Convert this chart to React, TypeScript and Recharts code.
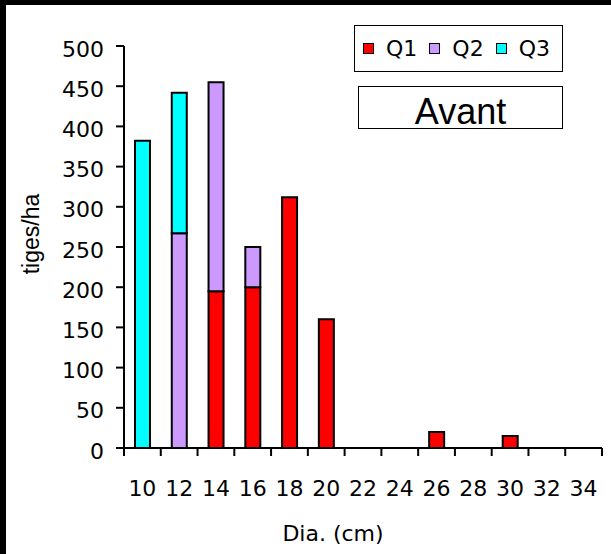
import { BarChart, Bar, XAxis, YAxis, Legend, Label } from 'recharts';

const diameters = ['10', '12', '14', '16', '18', '20', '22', '24', '26', '28', '30', '32', '34'];
const q1 = [0, 0, 195, 200, 312, 160, 0, 0, 20, 0, 15, 0, 0];
const q2 = [0, 267, 260, 50, 0, 0, 0, 0, 0, 0, 0, 0, 0];
const q3 = [382, 175, 0, 0, 0, 0, 0, 0, 0, 0, 0, 0, 0];
const yTicks = [0, 50, 100, 150, 200, 250, 300, 350, 400, 450, 500];

const data = diameters.map((d, i) => ({ dia: d, Q1: q1[i], Q2: q2[i], Q3: q3[i] }));

const W = 611;
const H = 554;
const margin = { top: 46, right: 9, left: 0, bottom: 0 };
const Y_W = 124;
const X_H = 106;
const BAND = (W - margin.right - margin.left - Y_W) / diameters.length;
const FONT = '"DejaVu Sans", sans-serif';
const ARIAL = '"Liberation Sans", Arial, sans-serif';

function XTick(props: any) {
  const { x, y, payload, index } = props;
  const axisY = y - 8;
  const last = index === diameters.length - 1;
  return (
    <g>
      <line x1={x - BAND / 2} x2={x - BAND / 2} y1={axisY} y2={axisY + 8} stroke="#000" strokeWidth={2} />
      {last && <line x1={x + BAND / 2} x2={x + BAND / 2} y1={axisY} y2={axisY + 8} stroke="#000" strokeWidth={2} />}
      <text x={x} y={axisY + 48} textAnchor="middle" fontFamily={FONT} fontSize={22} fill="#000">
        {payload.value}
      </text>
    </g>
  );
}

function YTick(props: any) {
  const { x, y, payload } = props;
  return (
    <text x={x} y={y + 10.5} textAnchor="end" fontFamily={FONT} fontSize={22} fill="#000">
      {payload.value}
    </text>
  );
}

function LegendBox(props: any) {
  const items = props.payload || [];
  return (
    <div
      style={{
        boxSizing: 'border-box',
        width: 209,
        height: 47,
        border: '1.5px solid #000',
        background: '#fff',
        display: 'flex',
        alignItems: 'center',
        paddingLeft: 8,
        fontFamily: FONT,
        fontSize: 22,
        color: '#000',
      }}
    >
      {items.map((it: any) => (
        <div key={it.value} style={{ display: 'flex', alignItems: 'center', marginRight: 12 }}>
          <span
            style={{
              display: 'inline-block',
              boxSizing: 'border-box',
              width: 11,
              height: 11,
              background: it.color,
              border: '1.5px solid #000',
              marginRight: 12,
            }}
          />
          <span style={{ lineHeight: '22px' }}>{it.value}</span>
        </div>
      ))}
    </div>
  );
}

export default function App() {
  return (
    <div style={{ position: 'absolute', left: 0, top: 0, width: W, height: H, background: '#000' }}>
      <div style={{ position: 'absolute', left: 6, top: 5, right: 0, bottom: 0, background: '#fff' }} />
      <div style={{ position: 'absolute', left: 0, top: 0 }}>
        <BarChart width={W} height={H} data={data} margin={margin} barSize={15}>
          <XAxis
            dataKey="dia"
            height={X_H}
            interval={0}
            tickSize={8}
            tickMargin={0}
            tickLine={false}
            tick={<XTick />}
            axisLine={{ stroke: '#000', strokeWidth: 2 }}
          >
            <Label
              content={(p: any) => {
                const vb = p.viewBox;
                return (
                  <text x={vb.x + vb.width / 2 - 30} y={vb.y + 93} textAnchor="middle" fontFamily={FONT} fontSize={22} fill="#000">
                    Dia. (cm)
                  </text>
                );
              }}
            />
          </XAxis>
          <YAxis
            width={Y_W}
            domain={[0, 500]}
            ticks={yTicks}
            interval={0}
            tickSize={8}
            tickMargin={12}
            tick={<YTick />}
            tickLine={{ stroke: '#000', strokeWidth: 2 }}
            axisLine={{ stroke: '#000', strokeWidth: 2 }}
          >
            <Label
              content={(p: any) => {
                const vb = p.viewBox;
                const cy = vb.y + vb.height / 2 - 13;
                return (
                  <text x={39} y={cy} transform={`rotate(-90, 39, ${cy})`} textAnchor="middle" fontFamily={ARIAL} fontSize={23} fill="#000">
                    tiges/ha
                  </text>
                );
              }}
            />
          </YAxis>
          <Legend
            layout="horizontal"
            verticalAlign="middle"
            align="center"
            content={<LegendBox />}
            wrapperStyle={{ position: 'absolute', left: 354, top: 25, width: 209, height: 47 }}
          />
          <Bar dataKey="Q1" name="Q1" stackId="a" fill="#FF0000" stroke="#000" strokeWidth={2} isAnimationActive={false} />
          <Bar dataKey="Q2" name="Q2" stackId="a" fill="#CC99FF" stroke="#000" strokeWidth={2} isAnimationActive={false} />
          <Bar dataKey="Q3" name="Q3" stackId="a" fill="#00FFFF" stroke="#000" strokeWidth={2} isAnimationActive={false} />
        </BarChart>
      </div>
      <div
        style={{
          position: 'absolute',
          left: 358,
          top: 86,
          width: 205,
          height: 43,
          boxSizing: 'border-box',
          border: '1.5px solid #000',
          background: '#fff',
        }}
      >
        <span
          style={{
            position: 'absolute',
            left: 0,
            right: 0,
            top: 7,
            textAlign: 'center',
            fontFamily: ARIAL,
            fontSize: 36,
            lineHeight: '36px',
            color: '#000',
          }}
        >
          Avant
        </span>
      </div>
    </div>
  );
}
